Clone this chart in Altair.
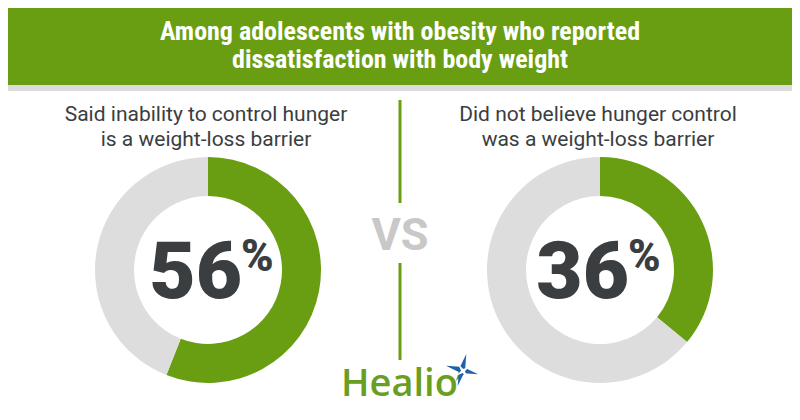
import altair as alt
import pandas as pd

# ---- data ----
title_lines = ["Among adolescents with obesity who reported", "dissatisfaction with body weight"]
panel_names = ["left", "right"]
subtitles = [
    "Said inability to control hunger\nis a weight-loss barrier",
    "Did not believe hunger control\nwas a weight-loss barrier",
]
pct_yes = [56, 36]
vs_label = "VS"
brand = "Healio"

GREEN = "#6a9e12"
GREY = "#dddddd"
DARK = "#3a3e40"
M = 8  # page margin offset (reference pixel -> chart pixel)

W, H = 784, 404
one = pd.DataFrame({"k": [0]})


def px(v):
    return v - M


layers = []

# banner
layers.append(
    alt.Chart(one).mark_rect(color=GREEN).encode(
        x=alt.value(0), x2=alt.value(W), y=alt.value(0), y2=alt.value(px(85))
    )
)
layers.append(
    alt.Chart(one).mark_rect(color="#dcdcdc").encode(
        x=alt.value(0), x2=alt.value(W), y=alt.value(px(85)), y2=alt.value(px(91))
    )
)
# title
title_df = pd.DataFrame({"t": ["\n".join(title_lines)]})
layers.append(
    alt.Chart(title_df).mark_text(
        color="white", fontSize=26, fontWeight="bold", lineBreak="\n", lineHeight=28,
        font="Roboto Condensed, Liberation Sans Narrow, DejaVu Sans Condensed, Roboto",
        align="center", baseline="alphabetic",
    ).encode(text="t:N", x=alt.value(px(400)), y=alt.value(px(40)))
)

centers = {"left": 208, "right": 600}
num_right = {"left": 242, "right": 629}

for name, sub, p in zip(panel_names, subtitles, pct_yes):
    cx = centers[name]
    d = pd.DataFrame({"cat": ["yes", "no"], "value": [p, 100 - p], "ord": [0, 1]})
    layers.append(
        alt.Chart(d).mark_arc(radius=113, radius2=74).encode(
            theta=alt.Theta("value:Q", stack=True),
            order=alt.Order("ord:Q"),
            color=alt.Color("cat:N", scale=alt.Scale(domain=["yes", "no"], range=[GREEN, GREY]), legend=None),
            x=alt.value(px(cx)), y=alt.value(px(270)),
        )
    )
    sd = pd.DataFrame({"t": [sub]})
    layers.append(
        alt.Chart(sd).mark_text(
            color=DARK, fontSize=21, font="Roboto", lineBreak="\n", lineHeight=25,
            align="center", baseline="alphabetic",
        ).encode(text="t:N", x=alt.value(px(cx - 2)), y=alt.value(px(121)))
    )
    nd = pd.DataFrame({"t": [str(p)]})
    layers.append(
        alt.Chart(nd).mark_text(
            color=DARK, fontSize=80, font="Roboto", fontWeight=900, align="right", baseline="alphabetic",
        ).encode(text="t:N", x=alt.value(px(num_right[name])), y=alt.value(px(298)))
    )
    layers.append(
        alt.Chart(one).mark_text(
            color=DARK, fontSize=44, font="Roboto", fontWeight=900, align="left", baseline="alphabetic", text="%",
        ).encode(x=alt.value(px(num_right[name] - 1)), y=alt.value(px(271)))
    )

# vertical divider
layers.append(
    alt.Chart(one).mark_rule(color=GREEN, strokeWidth=3).encode(
        x=alt.value(px(400)), y=alt.value(px(100)), y2=alt.value(px(203))
    )
)
layers.append(
    alt.Chart(one).mark_rule(color=GREEN, strokeWidth=3).encode(
        x=alt.value(px(400)), y=alt.value(px(263)), y2=alt.value(px(360))
    )
)
# VS
layers.append(
    alt.Chart(pd.DataFrame({"t": [vs_label]})).mark_text(
        color="#c8c8c8", fontSize=45, font="Roboto", fontWeight="bold", align="center", baseline="alphabetic",
    ).encode(text="t:N", x=alt.value(px(400)), y=alt.value(px(250)))
)
# Healio logo
layers.append(
    alt.Chart(pd.DataFrame({"t": [brand]})).mark_text(
        color="#6a9e22", fontSize=38, font="Open Sans", fontWeight=600, align="left", baseline="alphabetic",
    ).encode(text="t:N", x=alt.value(px(341)), y=alt.value(px(396)))
)
star = "M0,-1 L0.16,-0.16 L1,0 L0.16,0.16 L0,1 L-0.16,0.16 L-1,0 L-0.16,-0.16 Z"
layers.append(
    alt.Chart(one).mark_point(shape="M0,-0.3 L1,0 L0,0.3 Z", filled=True, color=GREEN, size=450, opacity=1, angle=125).encode(
        x=alt.value(px(462)), y=alt.value(px(372))
    )
)
layers.append(
    alt.Chart(one).mark_point(shape=star, filled=True, color="#1e63a8", size=1100, opacity=1, angle=15).encode(
        x=alt.value(px(462)), y=alt.value(px(370))
    )
)
layers.append(
    alt.Chart(one).mark_point(shape=star, filled=True, color="white", size=300, opacity=1, angle=55).encode(
        x=alt.value(px(463)), y=alt.value(px(371))
    )
)

chart = alt.layer(*layers).properties(
    width=W, height=H, autosize=alt.AutoSizeParams(type="none"), padding=0
).configure_view(stroke=None)

chart.save("out.html", embed_options={"renderer": "svg", "actions": False})
